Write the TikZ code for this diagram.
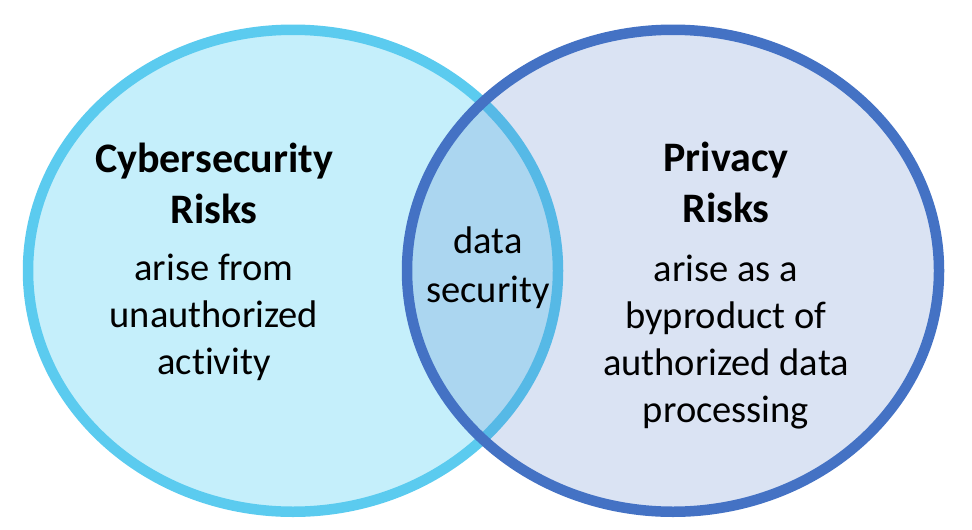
\documentclass[tikz,border=0pt]{standalone}
\usepackage{fontspec}
\setmainfont{Carlito}[Ligatures=NoCommon]
\definecolor{cyanfill}{HTML}{C5EFFB}
\definecolor{cyanline}{HTML}{5BCBEF}
\definecolor{blueline}{HTML}{4472C4}
\tikzset{
  leftset/.style={draw=cyanline, fill=cyanfill, line width=10.5pt},
  rightset/.style={draw=blueline, fill=blueline, fill opacity=0.2, draw opacity=1, line width=10.5pt},
  titletext/.style={font=\fontsize{42}{51}\selectfont\bfseries, align=center, anchor=base, inner sep=0pt},
  bodytext/.style={font=\fontsize{38.5}{47}\selectfont, align=center, anchor=base, inner sep=0pt},
}
\begin{document}
\begin{tikzpicture}[x=1pt,y=-1pt]
\useasboundingbox (0,0) rectangle (972,530);
\path[leftset] (293,270.75) ellipse [x radius=265, y radius=241];
\path[rightset] (673,270.75) ellipse [x radius=266, y radius=241];
\node[titletext] (cybertitle) at (214,223) {Cybersecurity\\Risks};
\node[bodytext] (cyberbody) at (214,374) {arise from\\unauthorized\\activity};
\node[titletext] (privtitle) at (726,222) {Privacy\\Risks};
\node[bodytext] (privbody) at (726,422) {arise as a\\byproduct of\\authorized data\\processing};
\node[bodytext, font=\fontsize{38.5}{49}\selectfont] (overlap) at (488,302) {data\\security};
\end{tikzpicture}
\end{document}
